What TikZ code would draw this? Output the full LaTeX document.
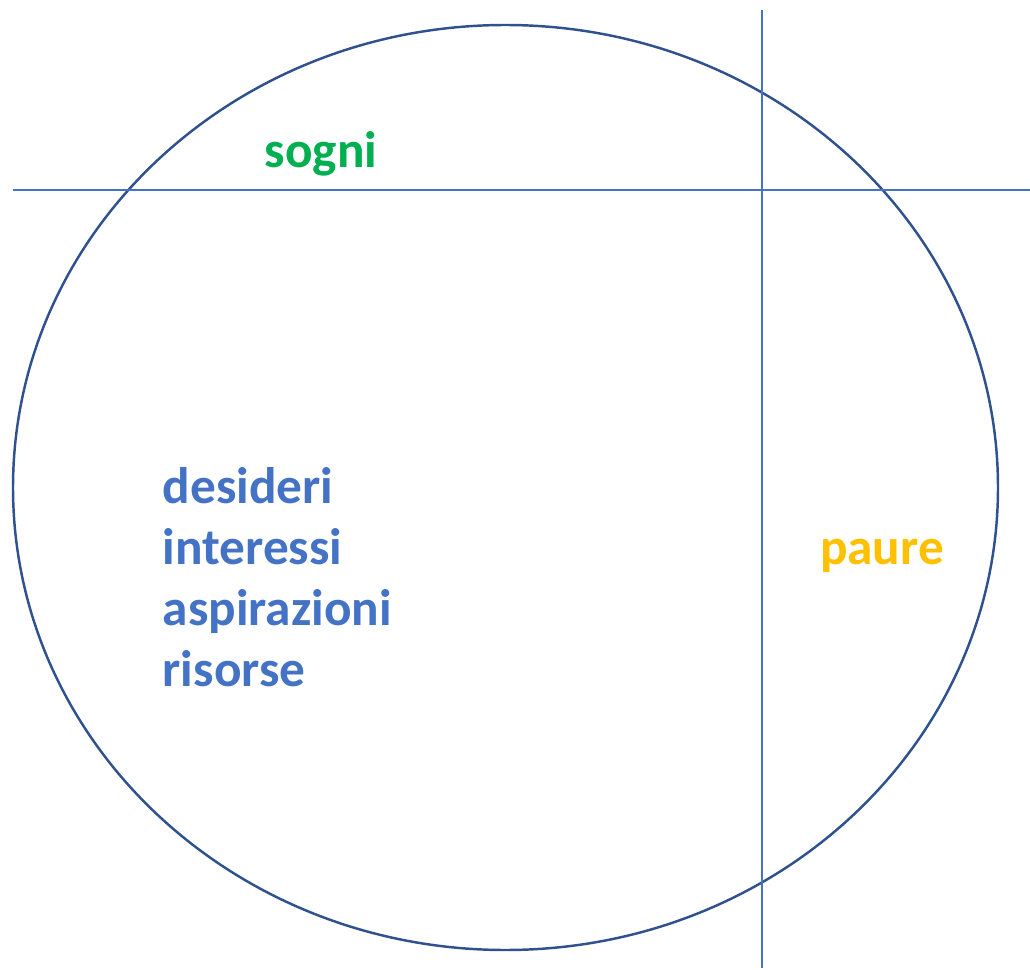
\documentclass[tikz,border=0pt]{standalone}
\usepackage{fontspec}
\setmainfont{Carlito}
\usetikzlibrary{positioning}
\definecolor{RingBlue}{HTML}{2F528F}
\definecolor{AxisBlue}{HTML}{4472C4}
\definecolor{DreamGreen}{HTML}{00B050}
\definecolor{FearGold}{HTML}{FFC000}

\begin{document}
\begin{tikzpicture}[
  ring/.style  = {draw=RingBlue, line width=0.7pt},
  axis/.style  = {draw=AxisBlue, line width=0.5pt},
  word/.style  = {font=\fontsize{14.6}{17.4}\selectfont\bfseries, inner sep=0pt},
  list/.style  = {word, text=AxisBlue, align=left}
]
  \useasboundingbox (0,0) rectangle (10.30,9.69);

  \draw[ring] (5.055,4.815) ellipse [x radius=4.925, y radius=4.625];

  \coordinate (hl) at (0.13,7.79);
  \coordinate (hr) at (10.30,7.79);
  \coordinate (vt) at (7.62,9.59);
  \coordinate (vb) at (7.62,0.01);
  \draw[axis] (hl) -- (hr);
  \draw[axis] (vt) -- (vb);

  \node[word, text=DreamGreen] (sogni) at (3.21,8.15) {sogni};
  \node[list, anchor=west] (needs) at (1.62,3.92)
    {desideri\\interessi\\aspirazioni\\risorse};
  \node[word, text=FearGold] (paure) at (8.82,4.13) {paure};
\end{tikzpicture}
\end{document}
